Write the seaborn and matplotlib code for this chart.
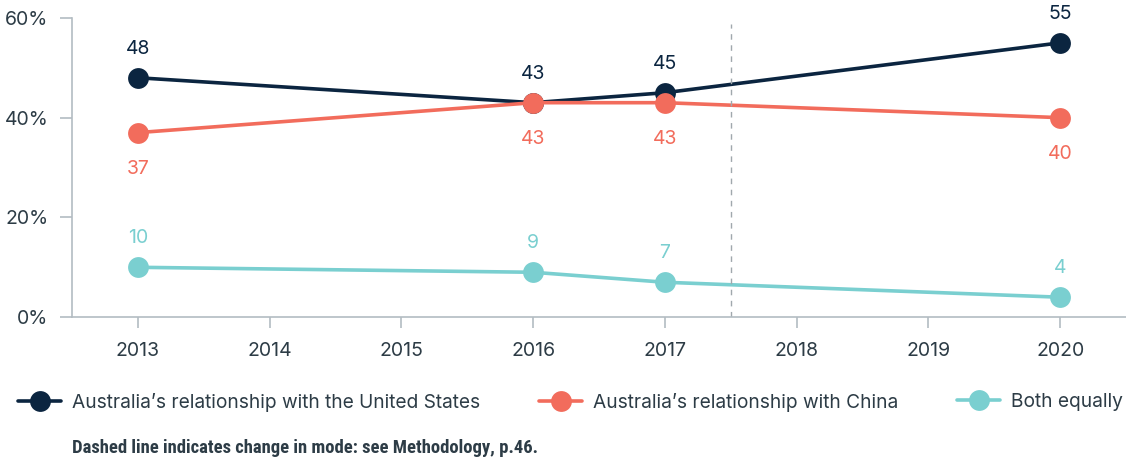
import matplotlib
matplotlib.use("Agg")
import matplotlib.pyplot as plt
import pandas as pd
import seaborn as sns

years = [2013, 2016, 2017, 2020]
united_states = [48, 43, 45, 55]
china = [37, 43, 43, 40]
both_equally = [10, 9, 7, 4]

series_names = [
    "Australia\u2019s relationship with the United States",
    "Australia\u2019s relationship with China",
    "Both equally",
]
series_colors = ["#0b2540", "#f26c5c", "#7acfd0"]
label_above = [True, False, True]

tick_years = list(range(2013, 2021))
y_ticks = [0, 20, 40, 60]
mode_change_year = 2017.5
footnote = "Dashed line indicates change in mode: see Methodology, p.46."

text_color = "#2d3c46"
axis_color = "#b3bcc2"

df = pd.concat(
    [
        pd.DataFrame({"year": years, "value": vals, "series": name})
        for name, vals in zip(series_names, [united_states, china, both_equally])
    ],
    ignore_index=True,
)

sns.set_theme(style="white")
plt.rcParams["font.family"] = ["Inter", "DejaVu Sans"]

fig = plt.figure(figsize=(11.26, 4.59), dpi=100)
ax = fig.add_axes([0.064, 0.309, 0.936, 0.652])

sns.lineplot(
    data=df, x="year", y="value", hue="series", hue_order=series_names,
    palette=series_colors, marker="o", markersize=15, markeredgewidth=0,
    linewidth=2.6, ax=ax, legend=False,
)

for name, color, above in zip(series_names, series_colors, label_above):
    sub = df[df["series"] == name]
    for x, y in zip(sub["year"], sub["value"]):
        ax.annotate(
            f"{y}", (x, y), xytext=(0, 21 if above else -26), textcoords="offset points",
            ha="center", va="center", fontsize=14, color=color,
        )

ax.axvline(mode_change_year, ymin=0, ymax=0.98, color="#a0a8ad", linestyle=(0, (4, 4)), linewidth=1)

ax.set_xlim(2012.5, 2020.5)
ax.set_ylim(0, 60)
ax.set_xticks(tick_years)
ax.set_xticklabels([str(y) for y in tick_years])
ax.set_yticks(y_ticks)
ax.set_yticklabels([f"{t}%" for t in y_ticks])
ax.set_xlabel("")
ax.set_ylabel("")

sns.despine(ax=ax, top=True, right=True)
for side in ["left", "bottom"]:
    ax.spines[side].set_color(axis_color)
    ax.spines[side].set_linewidth(1.2)
ax.tick_params(axis="y", length=9, width=1.2, color=axis_color, labelsize=14,
               labelcolor=text_color, pad=8, left=True)
ax.tick_params(axis="x", length=8, width=1.2, color=axis_color, labelsize=14,
               labelcolor=text_color, pad=10, bottom=True)

# one legend per entry so each sits where the reference puts it
legend_x = [0.016, 0.479, 0.850]
for name, color, lx in zip(series_names, series_colors, legend_x):
    handle = plt.Line2D([], [], color=color, marker="o", markersize=15,
                        markeredgewidth=0, linewidth=2.6)
    fig.legend(
        [handle], [name], loc="center left", bbox_to_anchor=(lx, 0.124),
        frameon=False, fontsize=13.8, labelcolor=text_color, handlelength=2.25,
        handletextpad=0.55, borderpad=0, borderaxespad=0,
    )

fig.text(0.064, 0.025, footnote, fontsize=13.4, fontweight="bold", color=text_color,
         family=["Roboto Condensed", "Liberation Sans Narrow", "Roboto"], va="center")

fig.savefig("out.png", dpi=100)
